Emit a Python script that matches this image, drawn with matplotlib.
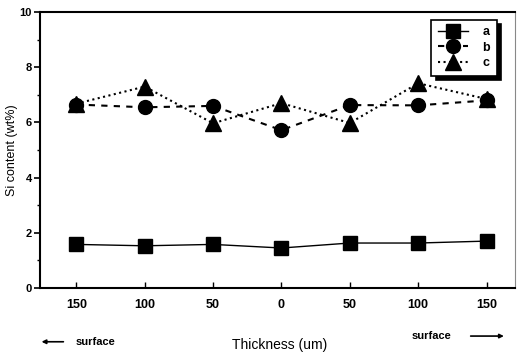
import matplotlib
matplotlib.use("Agg")
import matplotlib.pyplot as plt
import numpy as np

plt.rcParams['font.family'] = ['Liberation Sans', 'DejaVu Sans']

tick_labels = ['150', '100', '50', '0', '50', '100', '150']
series_a = [1.58, 1.53, 1.58, 1.45, 1.63, 1.63, 1.70]
series_b = [6.65, 6.55, 6.60, 5.72, 6.63, 6.62, 6.80]
series_c = [6.68, 7.30, 5.97, 6.70, 5.98, 7.42, 6.85]

fig = plt.figure(figsize=(5.17, 3.56), dpi=100)
ax = fig.add_axes([0.0774, 0.191, 0.918, 0.775])
x = np.arange(len(tick_labels))

ax.plot(x, series_a, '-', color='black', lw=1.0, marker='s', ms=10, label='a')
ax.plot(x, series_b, '--', color='black', lw=1.5, marker='o', ms=10, dashes=(3, 3), label='b')
ax.plot(x, series_c, ':', color='black', lw=1.5, marker='^', ms=11, label='c')

ax.set_xlim(-0.53, 6.41)
ax.set_ylim(0, 10)
ax.set_xticks(x)
ax.set_xticklabels(tick_labels, fontsize=9, fontweight='bold')
ax.set_yticks([0, 2, 4, 6, 8, 10])
ax.set_yticklabels(['0', '2', '4', '6', '8', '10'], fontsize=8, fontweight='bold')
ax.set_yticks([1, 3, 5, 7, 9], minor=True)
ax.tick_params(axis='y', which='major', direction='out', length=4, width=1.2, pad=2)
ax.tick_params(axis='y', which='minor', direction='out', length=2, width=1)
ax.tick_params(axis='x', which='major', direction='in', length=4, width=1, pad=8)
for s in ['left', 'bottom', 'top']:
    ax.spines[s].set_linewidth(1.5)
ax.spines['right'].set_linewidth(0.8)
ax.spines['right'].set_color('#888888')

ax.set_ylabel('Si content (wt%)', fontsize=9, labelpad=1)

leg = ax.legend(loc='upper right', bbox_to_anchor=(0.975, 0.995), fontsize=9, frameon=True,
                fancybox=False, shadow={'ox': 3, 'oy': -3, 'color': 'black', 'alpha': 1},
                handlelength=2.4, borderpad=0.5,
                labelspacing=0.3, handletextpad=1.2, markerscale=1.0)
leg.get_frame().set_edgecolor('black')
leg.get_frame().set_linewidth(1.2)
for t in leg.get_texts():
    t.set_fontweight('bold')

fig.text(0.54, 0.03, 'Thickness (um)', ha='center', va='center', fontsize=10)
fig.text(0.146, 0.04, 'surface', ha='left', va='center', fontsize=8, fontweight='bold')
ax.annotate('', xy=(0.075, 0.04), xytext=(0.128, 0.04), xycoords='figure fraction',
            textcoords='figure fraction', annotation_clip=False,
            arrowprops=dict(arrowstyle='-|>', color='black', lw=1.2, mutation_scale=6))
fig.text(0.797, 0.056, 'surface', ha='left', va='center', fontsize=8, fontweight='bold')
ax.annotate('', xy=(0.98, 0.056), xytext=(0.905, 0.056), xycoords='figure fraction',
            textcoords='figure fraction', annotation_clip=False,
            arrowprops=dict(arrowstyle='-|>', color='black', lw=1.2, mutation_scale=6))

fig.savefig('out.png', dpi=100)
